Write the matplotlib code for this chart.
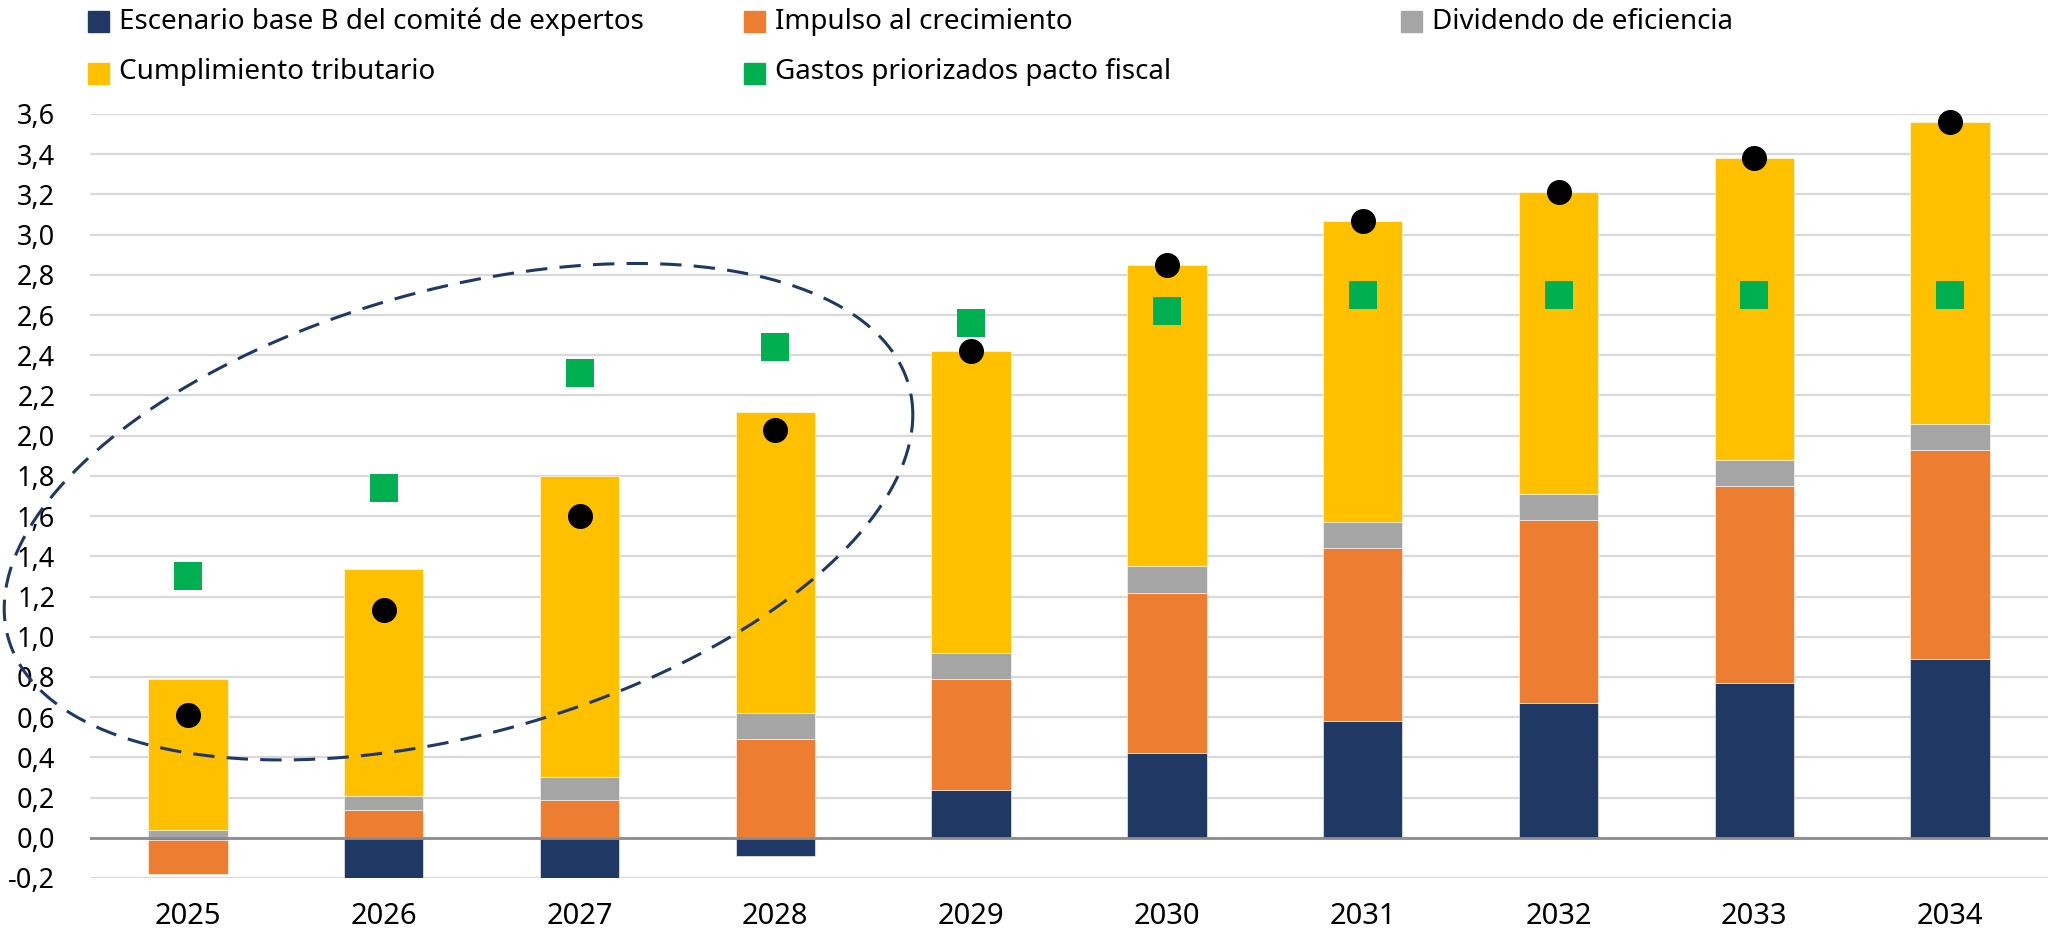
import numpy as np
import matplotlib
matplotlib.use("Agg")
import matplotlib.pyplot as plt
from matplotlib.patches import Rectangle
from matplotlib.ticker import FuncFormatter, MultipleLocator

plt.rcParams['font.family'] = ['Noto Sans', 'DejaVu Sans']

# data (% of GDP)
years = ['2025', '2026', '2027', '2028', '2029', '2030', '2031', '2032', '2033', '2034']
base_b = [-0.01, -0.20, -0.20, -0.09, 0.24, 0.42, 0.58, 0.67, 0.77, 0.89]
impulso = [-0.17, 0.14, 0.19, 0.49, 0.55, 0.80, 0.86, 0.91, 0.98, 1.04]
dividendo = [0.04, 0.07, 0.11, 0.13, 0.13, 0.13, 0.13, 0.13, 0.13, 0.13]
cumplimiento = [0.75, 1.125, 1.50, 1.50, 1.50, 1.50, 1.50, 1.50, 1.50, 1.50]
gastos = [1.30, 1.74, 2.31, 2.44, 2.56, 2.62, 2.70, 2.70, 2.70, 2.70]

labels = ['Escenario base B del comité de expertos', 'Impulso al crecimiento',
          'Dividendo de eficiencia', 'Cumplimiento tributario', 'Gastos priorizados pacto fiscal']
colors = ['#203864', '#ED7D31', '#A5A5A5', '#FFC000', '#00B050']

W, H = 2048, 940
fig = plt.figure(figsize=(W / 100, H / 100), dpi=100)
ax = fig.add_axes([90 / W, 1 - 878 / H, (W - 90) / W, (878 - 114) / H])

x = np.arange(len(years))
series = [base_b, impulso, dividendo, cumplimiento]
pos = np.zeros(len(years))
neg = np.zeros(len(years))
for vals, c in zip(series, colors[:4]):
    v = np.array(vals)
    bottom = np.where(v >= 0, pos, neg)
    ax.bar(x, v, 0.405, bottom=bottom, color=c, edgecolor='white', linewidth=0.4, zorder=3)
    pos = pos + np.where(v >= 0, v, 0)
    neg = neg + np.where(v < 0, v, 0)

# black dots = net total of the four components
total = pos + neg
ax.plot(x, total, 'o', color='black', markersize=17, zorder=5, clip_on=False)
ax.plot(x, gastos, 's', color=colors[4], markersize=20, markeredgewidth=0, zorder=6)

ax.set_xlim(-0.5, len(years) - 0.5)
ax.set_ylim(-0.2, 3.6)
ax.yaxis.set_major_locator(MultipleLocator(0.2))
ax.yaxis.set_major_formatter(FuncFormatter(lambda v, p: f"{v:.1f}".replace('.', ',').replace('-0,0', '0,0')))
ax.set_xticks(x)
ax.set_xticklabels(years)
ax.grid(axis='y', color='#D9D9D9', linewidth=1.6, zorder=0)
ax.axhline(0, color='#8C8C8C', linewidth=2, zorder=4)
ax.tick_params(axis='y', length=0, pad=25, labelsize=19.5, labelcolor='black')
ax.tick_params(axis='x', length=0, pad=17, labelsize=21, labelcolor='black')
for s in ax.spines.values():
    s.set_visible(False)

# dashed ellipse around 2025-2028 (image pixel coords)
t = np.linspace(0, 2 * np.pi, 400)
ex = 458.5 + 454.3 * np.cos(t)
ey = 511.7 - 96.8 * np.cos(t) - 228.6 * np.sin(t)
fig.add_artist(plt.Line2D(ex / W, 1 - ey / H, transform=fig.transFigure, color='#203864',
                          linewidth=2.2, linestyle=(0, (7, 4)), zorder=10))

# legend drawn by hand, two rows, three columns
leg_pos = [(88, 11, 29), (744, 11, 29), (1401, 11, 29), (88, 63, 79), (744, 63, 79)]
for (lx, ly, base), lab, c in zip(leg_pos, labels, colors):
    fig.add_artist(Rectangle((lx / W, 1 - (ly + 21) / H), 21 / W, 21 / H,
                             transform=fig.transFigure, color=c))
    fig.text((lx + 31) / W, 1 - base / H, lab, fontsize=20, va='baseline', ha='left')

fig.savefig('out.png', dpi=100)
